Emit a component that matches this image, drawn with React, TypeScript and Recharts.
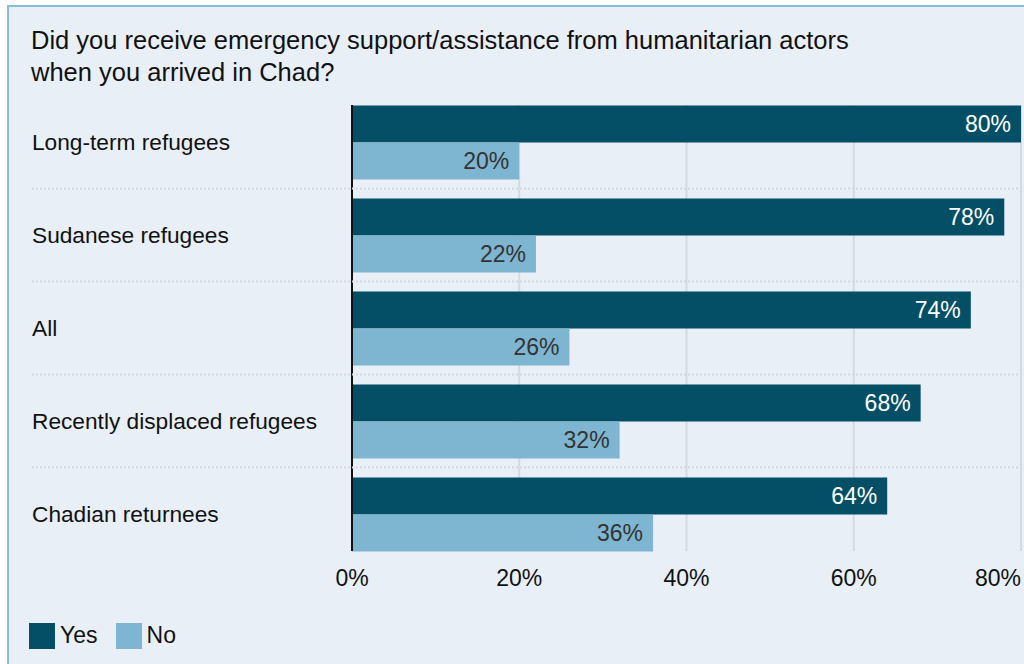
import React from 'react';
import { Bar, BarChart, CartesianGrid, LabelList, XAxis, YAxis } from 'recharts';

const categories = [
  'Long-term refugees',
  'Sudanese refugees',
  'All',
  'Recently displaced refugees',
  'Chadian returnees',
];
const yesValues = [80, 78, 74, 68, 64];
const noValues = [20, 22, 26, 32, 36];
const xTicks = [0, 20, 40, 60, 80];
const seriesNames = ['Yes', 'No'];

const YES_COLOR = '#044f66';
const NO_COLOR = '#7eb6d1';
const BG = '#e8eff7';
const FONT = '"Liberation Sans", Arial, sans-serif';

const W = 1024;
const H = 664;
const PLOT_TOP = 105;
const PLOT_BOTTOM = 551;
const PLOT_LEFT = 352;
const PLOT_RIGHT = 1021;
const BAR_SIZE = 37;
const BAND_PAD = 9.5;
const BAND = (PLOT_BOTTOM - PLOT_TOP + 2 * BAND_PAD) / categories.length;

const data = categories.map((name, i) => ({ name, yes: yesValues[i], no: noValues[i] }));

function CategoryTick(props: any) {
  const { y, index, payload } = props;
  const last = index === categories.length - 1;
  return (
    <g>
      <text x={32} y={y} dy="0.35em" fontSize={22.7} fill="#111" fontFamily={FONT}>
        {payload.value}
      </text>
      {!last && (
        <line
          x1={32}
          x2={W}
          y1={y + BAND / 2}
          y2={y + BAND / 2}
          stroke="#d5d9dd"
          strokeWidth={2}
          strokeDasharray="2 2"
        />
      )}
    </g>
  );
}

function PercentTick(props: any) {
  const { x, y, payload, index } = props;
  const last = index === xTicks.length - 1;
  return (
    <text
      x={x}
      y={y + 35}
      textAnchor={last ? 'end' : 'middle'}
      fontSize={23}
      fill="#111"
      fontFamily={FONT}
    >
      {payload.value}%
    </text>
  );
}

export default function App() {
  const colors = [YES_COLOR, NO_COLOR];
  return (
    <div style={{ position: 'absolute', left: 0, top: 0, width: W, height: H, overflow: 'hidden', background: '#fff' }}>
      <div
        style={{
          position: 'absolute',
          left: 7,
          top: 5,
          width: W + 20,
          height: H + 20,
          borderLeft: '2px solid #86bcdb',
          borderTop: '2px solid #86bcdb',
          background: BG,
        }}
      />
      <div
        style={{
          position: 'absolute',
          left: 31,
          top: 24,
          fontFamily: FONT,
          fontSize: 25.5,
          lineHeight: '32px',
          color: '#111',
          whiteSpace: 'nowrap',
        }}
      >
        Did you receive emergency support/assistance from humanitarian actors
        <br />
        when you arrived in Chad?
      </div>
      <div style={{ position: 'absolute', left: 0, top: 0 }}>
        <BarChart
          width={W}
          height={H}
          data={data}
          layout="vertical"
          barGap={0}
          margin={{ top: PLOT_TOP, right: W - PLOT_RIGHT, bottom: H - PLOT_BOTTOM - 40, left: 0 }}
        >
          <CartesianGrid horizontal={false} stroke="#d3dbe1" strokeWidth={2} />
          <XAxis
            type="number"
            domain={[0, 80]}
            ticks={xTicks}
            height={40}
            axisLine={false}
            tickLine={false}
            tickSize={0}
            tickMargin={0}
            tick={<PercentTick />}
            interval={0}
          />
          <YAxis
            type="category"
            dataKey="name"
            width={PLOT_LEFT}
            padding={{ top: -BAND_PAD, bottom: -BAND_PAD }}
            axisLine={{ stroke: '#111', strokeWidth: 2 }}
            tickLine={false}
            tick={<CategoryTick />}
            interval={0}
          />
          <Bar dataKey="yes" fill={YES_COLOR} barSize={BAR_SIZE} isAnimationActive={false}>
            <LabelList
              dataKey="yes"
              position="insideRight"
              offset={10}
              fill="#fff"
              fontSize={23}
              fontFamily={FONT}
              formatter={(v: any) => `${v}%`}
            />
          </Bar>
          <Bar dataKey="no" fill={NO_COLOR} barSize={BAR_SIZE} isAnimationActive={false}>
            <LabelList
              dataKey="no"
              position="insideRight"
              offset={10}
              fill="#333"
              fontSize={23}
              fontFamily={FONT}
              formatter={(v: any) => `${v}%`}
            />
          </Bar>
        </BarChart>
      </div>
      <div
        style={{
          position: 'absolute',
          left: 29,
          top: 622,
          display: 'flex',
          alignItems: 'center',
          fontFamily: FONT,
          fontSize: 23,
          color: '#111',
        }}
      >
        {seriesNames.map((s, i) => (
          <div key={s} style={{ display: 'flex', alignItems: 'center', marginRight: 18 }}>
            <span style={{ width: 26, height: 26, background: colors[i], display: 'inline-block', marginRight: 5 }} />
            <span>{s}</span>
          </div>
        ))}
      </div>
    </div>
  );
}
